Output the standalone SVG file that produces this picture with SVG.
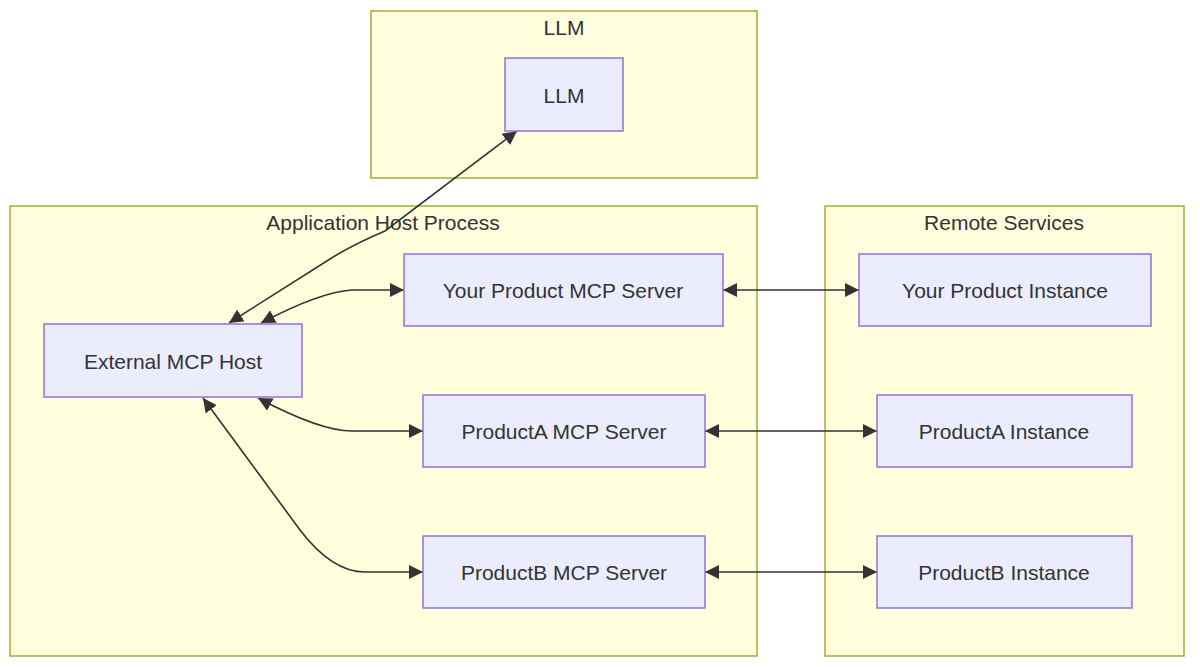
<svg xmlns="http://www.w3.org/2000/svg" width="1200" height="667" viewBox="0 0 1200 667">
<style>
.cluster{fill:#ffffde;stroke:#aaaa33;stroke-width:1.5}
.node{fill:#ececff;stroke:#9370db;stroke-width:1.5}
text{font-family:"Liberation Sans",Arial,sans-serif;font-size:21px;fill:#333;text-anchor:middle;dominant-baseline:central}
.edge{fill:none;stroke:#333;stroke-width:1.6;marker-start:url(#arr);marker-end:url(#arr)}
</style>
<defs>
<marker id="arr" viewBox="0 0 10 10" refX="10" refY="5" markerWidth="14" markerHeight="14" markerUnits="userSpaceOnUse" orient="auto-start-reverse">
<path d="M0,0 L10,5 L0,10 z" fill="#333"/>
</marker>
</defs>
<rect width="1200" height="667" fill="#fff"/>
<g id="cluster-llm"><rect class="cluster" x="371" y="11" width="386" height="167"/><text x="564" y="27">LLM</text></g>
<g id="cluster-app"><rect class="cluster" x="10" y="206" width="747" height="450"/><text x="383" y="222">Application Host Process</text></g>
<g id="cluster-remote"><rect class="cluster" x="825" y="206" width="359" height="450"/><text x="1004" y="222">Remote Services</text></g>
<g id="edges">
<path class="edge" d="M229,323 L330,259 Q352,245 385,231 L517,131"/>
<path class="edge" d="M261,323 Q320,292 352,290 L404,290"/>
<path class="edge" d="M258,398 Q320,431 352,431 L423,431"/>
<path class="edge" d="M203,398 L300,530 Q332,572 365,572 L423,572"/>
<path class="edge" d="M723,290 L859,290"/>
<path class="edge" d="M705,431 L877,431"/>
<path class="edge" d="M705,572 L877,572"/>
</g>
<g id="node-llm"><rect class="node" x="505" y="58" width="118" height="73"/><text x="564" y="95">LLM</text></g>
<g id="node-host"><rect class="node" x="44" y="324" width="258" height="73"/><text x="173" y="361">External MCP Host</text></g>
<g id="node-your-server"><rect class="node" x="404" y="254" width="319" height="72"/><text x="563" y="290">Your Product MCP Server</text></g>
<g id="node-a-server"><rect class="node" x="423" y="395" width="282" height="72"/><text x="564" y="431">ProductA MCP Server</text></g>
<g id="node-b-server"><rect class="node" x="423" y="536" width="282" height="72"/><text x="564" y="572">ProductB MCP Server</text></g>
<g id="node-your-instance"><rect class="node" x="859" y="254" width="292" height="72"/><text x="1005" y="290">Your Product Instance</text></g>
<g id="node-a-instance"><rect class="node" x="877" y="395" width="255" height="72"/><text x="1004" y="431">ProductA Instance</text></g>
<g id="node-b-instance"><rect class="node" x="877" y="536" width="255" height="72"/><text x="1004" y="572">ProductB Instance</text></g>
</svg>
